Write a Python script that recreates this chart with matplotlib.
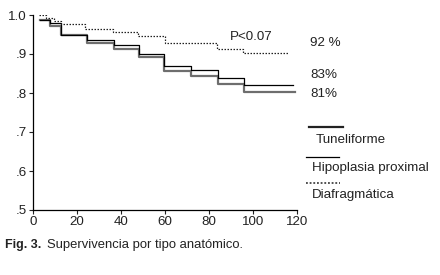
import numpy as np
import matplotlib
matplotlib.use("Agg")
import matplotlib.pyplot as plt
from matplotlib.lines import Line2D
from matplotlib.ticker import FuncFormatter

plt.rcParams['font.family'] = ['Liberation Sans', 'DejaVu Sans']

# Kaplan-Meier steps (months, survival)
t_tunel = [3.1, 7.6, 12.6, 24.5, 36.8, 48.2, 59.5, 71.8, 84.1, 96.0, 119.2]
s_tunel = [0.986, 0.972, 0.948, 0.928, 0.912, 0.892, 0.856, 0.843, 0.824, 0.802, 0.802]

t_hipo = [3.1, 7.6, 12.6, 24.5, 36.8, 48.2, 59.5, 71.8, 84.1, 96.0, 118.3]
s_hipo = [0.986, 0.979, 0.948, 0.936, 0.923, 0.899, 0.869, 0.860, 0.839, 0.820, 0.820]

t_diaf = [2.6, 6.0, 9.5, 12.6, 23.6, 36.3, 47.7, 60.0, 83.7, 95.5, 116.0]
s_diaf = [1.0, 0.992, 0.985, 0.977, 0.964, 0.956, 0.946, 0.928, 0.912, 0.902, 0.902]

labels = ['Tuneliforme', 'Hipoplasia proximal', 'Diafragmática']
end_labels = ['81%', '83%', '92 %']

fs = 9.6
txt = '#222222'

fig = plt.figure(figsize=(4.4, 2.75), dpi=100)
ax = fig.add_axes([33.3 / 440, 65 / 275, 263.4 / 440, 195 / 275])

ax.step(t_tunel, s_tunel, where='post', color='#6e6e6e', lw=1.6)
ax.step(t_hipo, s_hipo, where='post', color='black', lw=0.9)
ax.step(t_diaf, s_diaf, where='post', color='#222222', lw=0.9, ls=(0, (1.2, 1.2)))

ax.set_xlim(0, 120)
ax.set_ylim(0.5, 1.0)
ax.set_xticks(np.arange(0, 121, 20))
ax.set_yticks([0.5, 0.6, 0.7, 0.8, 0.9, 1.0])
ax.yaxis.set_major_formatter(FuncFormatter(lambda v, p: '1.0' if v >= 0.999 else ('%.1f' % v)[1:]))
for side in ['top', 'right']:
    ax.spines[side].set_visible(False)
for side in ['left', 'bottom']:
    ax.spines[side].set_linewidth(0.9)
ax.tick_params(length=3, width=0.8, labelsize=fs, colors=txt, pad=1.5)

# texts on the right
fig.text(230 / 440, 1 - 37 / 275, 'P<0.07', fontsize=fs, color=txt, va='center')
fig.text(310 / 440, 1 - 43 / 275, end_labels[2], fontsize=fs, color=txt, va='center')
fig.text(310 / 440, 1 - 75 / 275, end_labels[1], fontsize=fs, color=txt, va='center')
fig.text(310 / 440, 1 - 94 / 275, end_labels[0], fontsize=fs, color=txt, va='center')

# hand made legend
fig.add_artist(Line2D([309 / 440, 343 / 440], [1 - 127 / 275] * 2, color='#222222', lw=1.6))
fig.add_artist(Line2D([306 / 440, 339 / 440], [1 - 157 / 275] * 2, color='black', lw=0.9))
fig.add_artist(Line2D([306 / 440, 340 / 440], [1 - 183 / 275] * 2, color='#222222', lw=1.1,
                      ls=(0, (1.2, 1.2))))
fig.text(316 / 440, 1 - 140 / 275, labels[0], fontsize=fs, color=txt, va='center')
fig.text(312 / 440, 1 - 168 / 275, labels[1], fontsize=fs, color=txt, va='center')
fig.text(312 / 440, 1 - 195 / 275, labels[2], fontsize=fs, color=txt, va='center')

# caption
fig.text(5 / 440, 1 - 245 / 275, 'Fig. 3.', fontsize=9, fontweight='bold', color=txt, va='center')
fig.text(47 / 440, 1 - 245 / 275, 'Supervivencia por tipo anatómico.', fontsize=9.4, color=txt,
         va='center')

fig.savefig('out.png', dpi=100)
